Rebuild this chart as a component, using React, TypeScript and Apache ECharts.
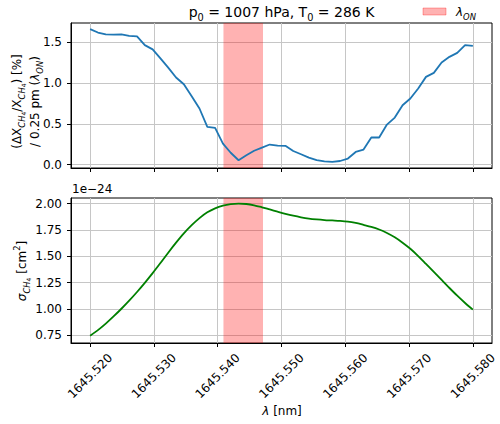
import React, { useEffect, useRef } from "react";
import * as echarts from "echarts";

// Wavelength grid (nm), shared by both panels
const WAVELENGTH_NM = [
  1645.52, 1645.52122, 1645.52245, 1645.52367, 1645.5249, 1645.52612, 1645.52735, 1645.52857,
  1645.5298, 1645.53102, 1645.53224, 1645.53347, 1645.53469, 1645.53592, 1645.53714, 1645.53837,
  1645.53959, 1645.54082, 1645.54204, 1645.54327, 1645.54449, 1645.54571, 1645.54694, 1645.54816,
  1645.54939, 1645.55061, 1645.55184, 1645.55306, 1645.55429, 1645.55551, 1645.55673, 1645.55796,
  1645.55918, 1645.56041, 1645.56163, 1645.56286, 1645.56408, 1645.56531, 1645.56653, 1645.56776,
  1645.56898, 1645.5702, 1645.57143, 1645.57265, 1645.57388, 1645.5751, 1645.57633, 1645.57755,
  1645.57878, 1645.58,
];

// Relative XCH4 change per 0.25 pm shift of lambda_ON (%)
const SENSITIVITY = [
  1.662, 1.62, 1.597, 1.595, 1.597, 1.578, 1.572, 1.466, 1.413, 1.302, 1.19, 1.069, 0.986, 0.839,
  0.688, 0.462, 0.45, 0.258, 0.145, 0.053, 0.114, 0.17, 0.209, 0.246, 0.232, 0.23, 0.167, 0.127,
  0.086, 0.055, 0.04, 0.032, 0.044, 0.074, 0.155, 0.184, 0.332, 0.332, 0.491, 0.577, 0.728, 0.811,
  0.934, 1.076, 1.125, 1.253, 1.322, 1.371, 1.466, 1.457,
];

// CH4 absorption cross section (units of 1e-24 cm^2)
const CROSS_SECTION = [
  0.747, 0.8, 0.862, 0.93, 1.003, 1.08, 1.162, 1.249, 1.341, 1.437, 1.535, 1.63, 1.718, 1.796,
  1.863, 1.918, 1.956, 1.981, 1.995, 2.0, 1.997, 1.985, 1.966, 1.945, 1.924, 1.904, 1.886, 1.871,
  1.859, 1.851, 1.845, 1.841, 1.837, 1.83, 1.817, 1.799, 1.78, 1.755, 1.722, 1.681, 1.63, 1.572,
  1.503, 1.428, 1.352, 1.276, 1.2, 1.127, 1.058, 0.995,
];

// Online wavelength band (nm)
const ON_BAND = [1645.5409, 1645.5471];

// Tick positions
const X_TICKS = [1645.52, 1645.53, 1645.54, 1645.55, 1645.56, 1645.57, 1645.58];
const Y_TICKS_TOP = [0, 0.5, 1.0, 1.5];
const Y_TICKS_BOTTOM = [0.75, 1.0, 1.25, 1.5, 1.75, 2.0];

const FONT = "DejaVu Sans";
const GRID_COLOR = "#c6c6c6";

function richStyles(size: number) {
  return {
    n: { fontSize: size, lineHeight: size + 6, fontFamily: FONT },
    i: { fontSize: size, lineHeight: size + 6, fontFamily: FONT, fontStyle: "italic" },
    s: { fontSize: size * 0.7, lineHeight: size, verticalAlign: "bottom", fontFamily: FONT },
    si: {
      fontSize: size * 0.7,
      lineHeight: size,
      verticalAlign: "bottom",
      fontFamily: FONT,
      fontStyle: "italic",
    },
    ss: {
      fontSize: size * 0.5,
      lineHeight: size * 0.75,
      verticalAlign: "bottom",
      fontFamily: FONT,
    },
    sup: { fontSize: size * 0.7, lineHeight: size, verticalAlign: "top", fontFamily: FONT },
  };
}

export default function App() {
  const ref = useRef<HTMLDivElement>(null);

  useEffect(() => {
    if (!ref.current) return;
    const chart = echarts.init(ref.current, undefined, { renderer: "svg" });

    const topLine = WAVELENGTH_NM.map((x, k) => [x, SENSITIVITY[k]]);
    const bottomLine = WAVELENGTH_NM.map((x, k) => [x, CROSS_SECTION[k]]);

    const xCommon = {
      type: "value",
      min: 1645.517,
      max: 1645.583,
      axisLine: { show: true, onZero: false, lineStyle: { color: "#000", width: 1 } },
      axisTick: { show: true, customValues: X_TICKS, length: 4, lineStyle: { color: "#000" } },
      splitLine: { show: true, lineStyle: { color: GRID_COLOR, width: 1 } },
    };

    const yCommon = {
      type: "value",
      axisLine: { show: true, onZero: false, lineStyle: { color: "#000", width: 1 } },
      splitLine: { show: true, lineStyle: { color: GRID_COLOR, width: 1 } },
    };

    const band = {
      silent: true,
      itemStyle: { color: "rgba(255,0,0,0.3)" },
      data: [[{ xAxis: ON_BAND[0] }, { xAxis: ON_BAND[1] }]],
    };

    const r12 = richStyles(12);
    const r14 = richStyles(14);

    chart.setOption({
      animation: false,
      textStyle: { fontFamily: FONT },
      grid: [
        { left: 71, top: 23, width: 421, height: 145, show: true, borderColor: "#000", borderWidth: 1 },
        { left: 71, top: 198, width: 421, height: 145, show: true, borderColor: "#000", borderWidth: 1 },
      ],
      xAxis: [
        { ...xCommon, gridIndex: 0, axisLabel: { show: false, customValues: X_TICKS } },
        {
          ...xCommon,
          gridIndex: 1,
          axisLabel: {
            show: true,
            customValues: X_TICKS,
            rotate: 45,
            align: "center",
            verticalAlign: "middle",
            margin: 33,
            fontSize: 12,
            fontFamily: FONT,
            color: "#000",
            formatter: (v: number) => v.toFixed(3),
          },
        },
      ],
      yAxis: [
        {
          ...yCommon,
          gridIndex: 0,
          min: -0.042,
          max: 1.737,
          axisTick: { show: true, customValues: Y_TICKS_TOP, length: 4, lineStyle: { color: "#000" } },
          axisLabel: {
            customValues: Y_TICKS_TOP,
            margin: 9,
            fontSize: 12,
            fontFamily: FONT,
            color: "#000",
            formatter: (v: number) => v.toFixed(1),
          },
        },
        {
          ...yCommon,
          gridIndex: 1,
          min: 0.678,
          max: 2.054,
          axisTick: { show: true, customValues: Y_TICKS_BOTTOM, length: 4, lineStyle: { color: "#000" } },
          axisLabel: {
            customValues: Y_TICKS_BOTTOM,
            margin: 9,
            fontSize: 12,
            fontFamily: FONT,
            color: "#000",
            formatter: (v: number) => v.toFixed(2),
          },
        },
      ],
      series: [
        {
          type: "line",
          xAxisIndex: 0,
          yAxisIndex: 0,
          data: topLine,
          symbol: "none",
          lineStyle: { color: "#1f77b4", width: 1.8 },
          markArea: band,
          z: 3,
        },
        {
          type: "line",
          xAxisIndex: 1,
          yAxisIndex: 1,
          data: bottomLine,
          symbol: "none",
          smooth: 0.3,
          lineStyle: { color: "#008000", width: 1.8 },
          markArea: band,
          z: 3,
        },
      ],
      graphic: [
        {
          type: "text",
          x: 281.5,
          y: 12,
          style: {
            text: "{n|p}{s|0}{n| = 1007 hPa, T}{s|0}{n| = 286 K}",
            rich: r14,
            fill: "#000",
            align: "center",
            verticalAlign: "middle",
          },
        },
        {
          type: "rect",
          shape: { x: 423, y: 8, width: 23, height: 7 },
          style: { fill: "rgba(255,0,0,0.3)", stroke: "rgba(255,0,0,0.3)", lineWidth: 1 },
        },
        {
          type: "text",
          x: 456,
          y: 12,
          style: {
            text: "{i|λ}{si|ON}",
            rich: r12,
            fill: "#000",
            align: "left",
            verticalAlign: "middle",
          },
        },
        {
          type: "text",
          x: 72,
          y: 189,
          style: {
            text: "1e−24",
            fontSize: 12,
            fontFamily: FONT,
            fill: "#000",
            align: "left",
            verticalAlign: "middle",
          },
        },
        {
          type: "text",
          x: 17,
          y: 101.5,
          rotation: Math.PI / 2,
          style: {
            text: "{n|(ΔX}{si|CH}{ss|4}{n|/X}{si|CH}{ss|4}{n|) [%]}",
            rich: r12,
            fill: "#000",
            align: "center",
            verticalAlign: "middle",
          },
        },
        {
          type: "text",
          x: 35,
          y: 101.5,
          rotation: Math.PI / 2,
          style: {
            text: "{n|/ 0.25 pm (}{i|λ}{si|ON}{n|)}",
            rich: r12,
            fill: "#000",
            align: "center",
            verticalAlign: "middle",
          },
        },
        {
          type: "text",
          x: 22,
          y: 271,
          rotation: Math.PI / 2,
          style: {
            text: "{i|σ}{si|CH}{ss|4}{n| [cm}{sup|2}{n|]}",
            rich: r12,
            fill: "#000",
            align: "center",
            verticalAlign: "middle",
          },
        },
        {
          type: "text",
          x: 282,
          y: 411,
          style: {
            text: "{i|λ}{n| [nm]}",
            rich: r12,
            fill: "#000",
            align: "center",
            verticalAlign: "middle",
          },
        },
      ],
    });

    return () => chart.dispose();
  }, []);

  return (
    <div
      ref={ref}
      style={{ position: "fixed", left: 0, top: 0, width: 500, height: 424, background: "#fff" }}
    />
  );
}
